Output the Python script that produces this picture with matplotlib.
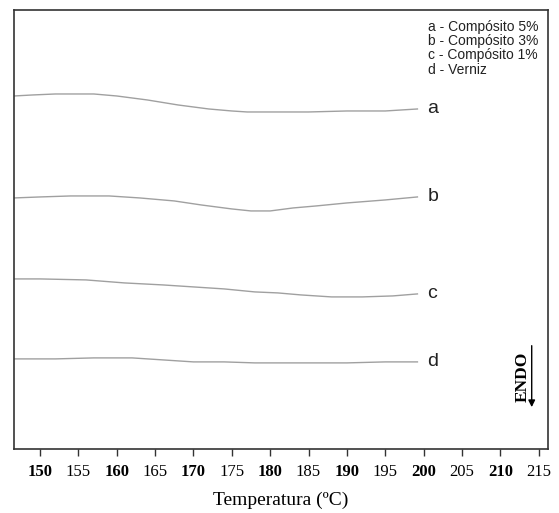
import numpy as np
import matplotlib.pyplot as plt

# temperature (C) sampled along each DSC trace
temp_a = [146.6, 149, 152, 155, 157, 160, 164, 168, 172, 175, 177, 181, 185, 190, 195, 199.2]
flow_a = [35.3, 35.4, 35.5, 35.5, 35.5, 35.3, 34.9, 34.4, 34.0, 33.8, 33.7, 33.7, 33.7, 33.8, 33.8, 34.0]

temp_b = [146.6, 150, 154, 159, 163, 167.5, 171, 175, 177.5, 180, 183, 186, 190, 195, 199.2]
flow_b = [25.1, 25.2, 25.3, 25.3, 25.1, 24.8, 24.4, 24.0, 23.8, 23.8, 24.1, 24.3, 24.6, 24.9, 25.2]

temp_c = [146.6, 150, 156, 161, 166, 170, 174, 178, 181, 184, 188, 192, 196, 199.2]
flow_c = [17.0, 17.0, 16.9, 16.6, 16.4, 16.2, 16.0, 15.7, 15.6, 15.4, 15.2, 15.2, 15.3, 15.5]

temp_d = [146.6, 152, 157, 162, 166, 170, 174, 178, 181, 185, 190, 195, 199.2]
flow_d = [9.0, 9.0, 9.1, 9.1, 8.9, 8.7, 8.7, 8.6, 8.6, 8.6, 8.6, 8.7, 8.7]

curve_labels = ['a', 'b', 'c', 'd']
legend_lines = ['a - Compósito 5%', 'b - Compósito 3%', 'c - Compósito 1%', 'd - Verniz']
xticks = [150, 155, 160, 165, 170, 175, 180, 185, 190, 195, 200, 205, 210, 215]

fig = plt.figure(figsize=(5.59, 5.13), dpi=100)
ax = fig.add_axes([0.025, 0.125, 0.955, 0.8555])

curves = [(temp_a, flow_a), (temp_b, flow_b), (temp_c, flow_c), (temp_d, flow_d)]
for (t, f), lab in zip(curves, curve_labels):
    ax.plot(t, f, color='#a0a0a0', lw=1.0)
    ax.text(t[-1] + 1.3, f[-1], lab, fontsize=14, family='Liberation Sans',
            va='center', ha='left', color='#222222')

ax.set_xlim(146.6, 216.2)
ax.set_ylim(0, 43.9)
ax.set_yticks([])
ax.set_xticks(xticks)
ax.set_xticklabels([str(v) for v in xticks], family='Liberation Serif', fontsize=12)
for i, lbl in enumerate(ax.get_xticklabels()):
    if xticks[i] % 10 == 0:
        lbl.set_fontweight('bold')
ax.tick_params(axis='x', direction='out', length=5, width=1, color='#333333', pad=6)
for s in ax.spines.values():
    s.set_color('#333333')
    s.set_linewidth(1.2)

ax.set_xlabel('Temperatura (ºC)', family='Liberation Serif', fontsize=14, labelpad=8)

# legend text block, top right
for i, line in enumerate(legend_lines):
    ax.text(0.776, 0.962 - i * 0.0326, line, transform=ax.transAxes, fontsize=10,
            family='Liberation Sans', va='center', ha='left', color='#222222')

# ENDO arrow
ax.annotate('', xy=(214.1, 3.9), xytext=(214.1, 10.6),
            arrowprops=dict(arrowstyle='-|>', color='black', lw=1.0, mutation_scale=10))
ax.text(212.9, 7.2, 'ENDO', rotation=90, family='Liberation Serif', fontsize=12.5,
        fontweight='bold', va='center', ha='center')

fig.savefig('out.png', dpi=100)
